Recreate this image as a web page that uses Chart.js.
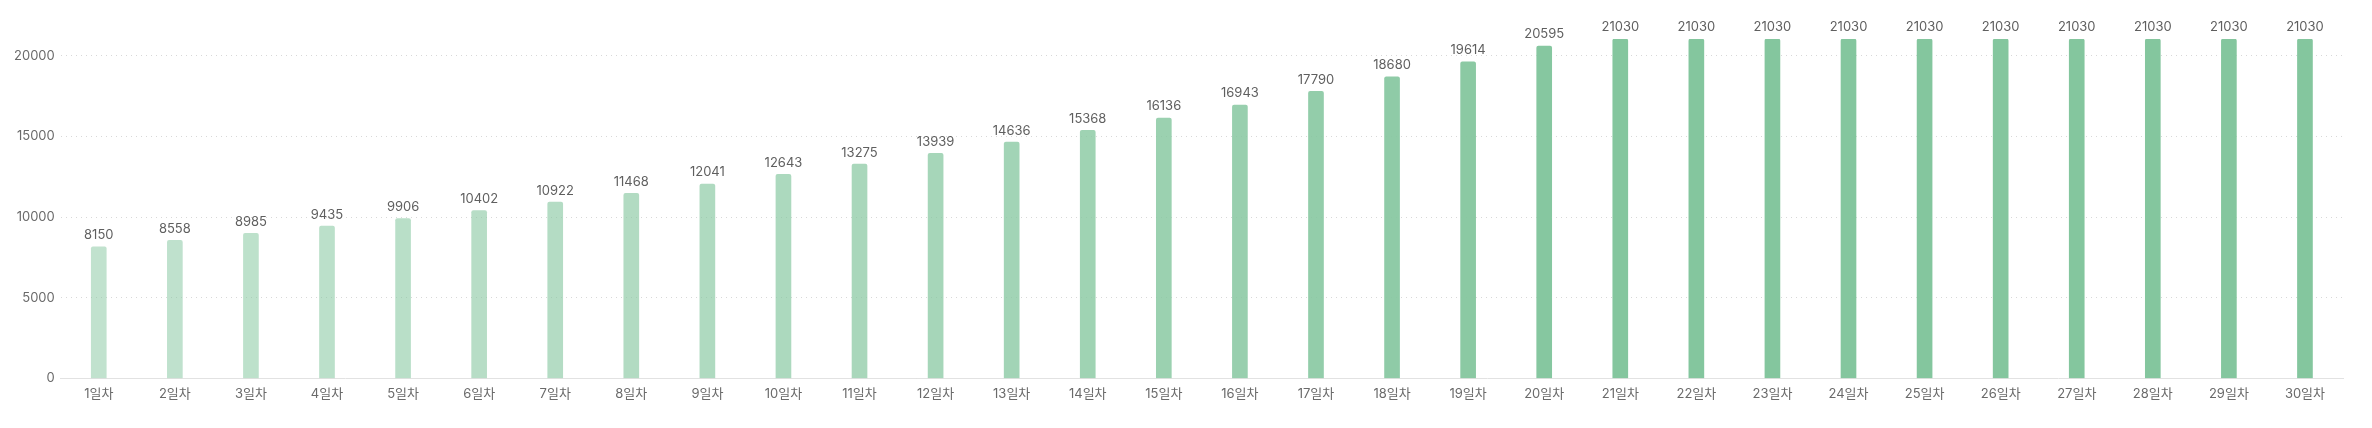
<!DOCTYPE html>
<html lang="ko">
<head>
  <meta charset="UTF-8">
  <title>일차별 누적</title>
  <style>
    body { margin: 0; background: #fff; }
    #wrap { width: 2372px; height: 428px; position: relative; }
  </style>
</head>
<body>
<div id="wrap"><canvas id="dayChart"></canvas></div>

<script src="https://cdn.jsdelivr.net/npm/chart.js"></script>
<script>
  const days = ['1일차','2일차','3일차','4일차','5일차','6일차','7일차','8일차','9일차','10일차',
    '11일차','12일차','13일차','14일차','15일차','16일차','17일차','18일차','19일차','20일차',
    '21일차','22일차','23일차','24일차','25일차','26일차','27일차','28일차','29일차','30일차'];
  const values = [8150, 8558, 8985, 9435, 9906, 10402, 10922, 11468, 12041, 12643,
    13275, 13939, 14636, 15368, 16136, 16943, 17790, 18680, 19614, 20595,
    21030, 21030, 21030, 21030, 21030, 21030, 21030, 21030, 21030, 21030];
  const yTicks = [0, 5000, 10000, 15000, 20000];

  const FONT = 'Inter, "Noto Sans CJK KR", sans-serif';
  const vMin = Math.min(...values), vMax = Math.max(...values);

  // shade each bar by its value: light for low, full green for the top
  function barColor(ctx) {
    const v = ctx.raw;
    const a = 0.5 + 0.5 * (v - vMin) / (vMax - vMin);
    return 'rgba(132, 198, 158, ' + a.toFixed(3) + ')';
  }

  // value labels above each bar
  const valueLabels = {
    id: 'valueLabels',
    afterDatasetsDraw(chart) {
      const c = chart.ctx;
      const meta = chart.getDatasetMeta(0);
      c.save();
      c.font = '13px ' + FONT;
      c.fillStyle = '#5f5f5f';
      c.textAlign = 'center';
      c.textBaseline = 'bottom';
      meta.data.forEach((bar, i) => {
        c.fillText(String(values[i]), bar.x, bar.y - 5);
      });
      c.restore();
    }
  };

  new Chart(document.getElementById('dayChart'), {
    type: 'bar',
    data: {
      labels: days,
      datasets: [{
        data: values,
        backgroundColor: barColor,
        borderRadius: 2,
        borderSkipped: 'bottom',
        barThickness: 15
      }]
    },
    options: {
      responsive: true,
      maintainAspectRatio: false,
      animation: false,
      layout: { padding: { top: 39, left: 8, right: 29, bottom: 18 } },
      plugins: {
        legend: { display: false },
        tooltip: { enabled: false }
      },
      scales: {
        x: {
          grid: { display: false, drawTicks: false },
          border: { color: '#e2e2e2', width: 1 },
          ticks: { color: '#6a6a6a', font: { family: FONT, size: 13 }, padding: 8, maxRotation: 0, autoSkip: false }
        },
        y: {
          min: 0,
          max: vMax,
          afterBuildTicks: scale => {
            scale.ticks = yTicks.map(v => ({ value: v }));
          },
          border: { display: false, dash: [1, 4] },
          grid: { color: '#d8d8d8', tickLength: 0, drawTicks: false },
          ticks: {
            color: '#6a6a6a', font: { family: FONT, size: 13 }, padding: 6,
            callback: v => String(v)
          }
        }
      }
    },
    plugins: [valueLabels]
  });
</script>
</body>
</html>
